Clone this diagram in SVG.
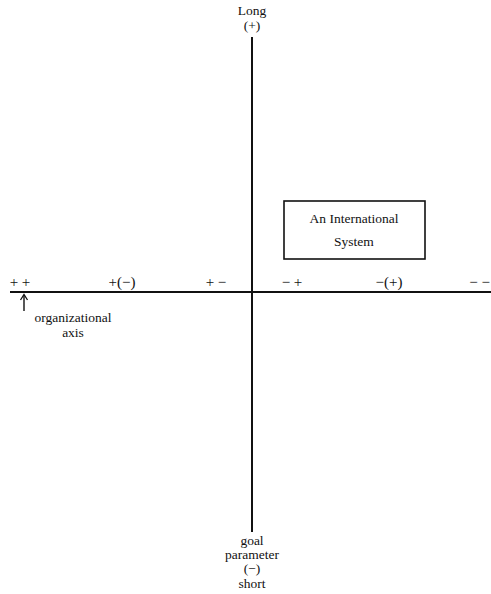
<svg xmlns="http://www.w3.org/2000/svg" width="491" height="594" viewBox="0 0 491 594">
<style>
text{font-family:"Liberation Serif","DejaVu Serif",serif;font-size:13.5px;fill:#111;text-anchor:middle}
.sg{font-size:15px}
.ax{stroke:#111;stroke-width:2;fill:none}
</style>
<rect width="491" height="594" fill="#fff"/>
<g id="connectors">
<line class="ax" x1="252" y1="37" x2="252" y2="532"/>
<line class="ax" x1="10" y1="292" x2="491" y2="292"/>
<line x1="24" y1="311" x2="24" y2="295" stroke="#111" stroke-width="1.4"/>
<path d="M20.5,300 L24,294.5 L27.5,300" fill="none" stroke="#111" stroke-width="1.3"/>
</g>
<g id="top-label"><text x="252" y="15">Long</text><text x="252" y="30">(+)</text></g>
<g id="bottom-label"><text x="252" y="545">goal</text><text x="252" y="559">parameter</text><text x="252" y="573">(−)</text><text x="252" y="588">short</text></g>
<g id="ticks">
<text class="sg" x="20" y="287">+ +</text>
<text class="sg" x="122" y="287">+(−)</text>
<text class="sg" x="216" y="287">+ −</text>
<text class="sg" x="292" y="287">− +</text>
<text class="sg" x="389" y="287">−(+)</text>
<text class="sg" x="490" y="287" style="text-anchor:end">− −</text>
</g>
<g id="org-axis"><text x="73" y="322">organizational</text><text x="73" y="337">axis</text></g>
<g id="intl-system">
<rect x="284" y="201" width="141" height="58" fill="none" stroke="#111" stroke-width="1.6"/>
<text x="354" y="223">An International</text><text x="354" y="246">System</text>
</g>
</svg>
